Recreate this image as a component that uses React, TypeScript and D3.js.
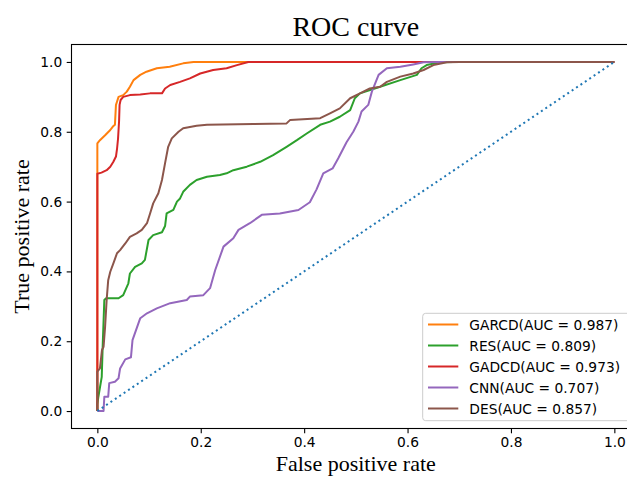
import React, { useEffect, useRef } from 'react';
import * as d3 from 'd3';

const garcd = [
  [0, 0], [0, 0.73], [0, 0.767], [0.005, 0.776], [0.015, 0.79], [0.025, 0.805], [0.03, 0.815],
  [0.034, 0.82], [0.036, 0.877], [0.038, 0.886], [0.041, 0.9], [0.05, 0.905], [0.057, 0.915],
  [0.063, 0.929], [0.07, 0.948], [0.083, 0.963], [0.095, 0.972], [0.115, 0.982], [0.14, 0.986],
  [0.166, 0.996], [0.186, 1], [1, 1],
];
const res = [
  [0, 0], [0, 0.02], [0.002, 0.041], [0.0085, 0.098], [0.0105, 0.194], [0.0135, 0.318],
  [0.017, 0.323], [0.041, 0.323], [0.05, 0.332], [0.06, 0.366], [0.063, 0.394], [0.073, 0.413],
  [0.086, 0.423], [0.092, 0.433], [0.099, 0.49], [0.108, 0.504], [0.125, 0.512], [0.131, 0.53],
  [0.134, 0.566], [0.147, 0.576], [0.154, 0.6], [0.16, 0.609], [0.166, 0.628], [0.179, 0.648],
  [0.192, 0.662], [0.212, 0.671], [0.237, 0.676], [0.25, 0.681], [0.263, 0.69], [0.289, 0.7],
  [0.315, 0.714], [0.34, 0.733], [0.366, 0.757], [0.386, 0.776], [0.405, 0.795], [0.431, 0.82],
  [0.45, 0.829], [0.469, 0.843], [0.489, 0.862], [0.498, 0.896], [0.508, 0.91], [0.547, 0.929],
  [0.586, 0.948], [0.618, 0.963], [0.627, 0.982], [0.637, 0.991], [0.663, 0.999], [0.689, 1], [1, 1],
];
const gadcd = [
  [0, 0], [0, 0.68], [0.008, 0.683], [0.018, 0.69], [0.025, 0.7], [0.031, 0.714], [0.036, 0.729],
  [0.038, 0.75], [0.04, 0.78], [0.042, 0.83], [0.043, 0.877], [0.045, 0.891], [0.05, 0.9],
  [0.063, 0.905], [0.083, 0.907], [0.102, 0.91], [0.125, 0.91], [0.131, 0.924], [0.141, 0.934],
  [0.16, 0.943], [0.179, 0.953], [0.199, 0.967], [0.224, 0.977], [0.25, 0.982], [0.27, 0.991],
  [0.292, 1], [1, 1],
];
const cnn = [
  [0, 0], [0.012, 0], [0.0135, 0.041], [0.021, 0.041], [0.023, 0.08], [0.034, 0.084], [0.041, 0.094],
  [0.044, 0.122], [0.054, 0.148], [0.065, 0.154], [0.068, 0.203], [0.083, 0.266], [0.096, 0.28],
  [0.115, 0.294], [0.141, 0.309], [0.173, 0.318], [0.179, 0.328], [0.205, 0.332], [0.218, 0.352],
  [0.228, 0.404], [0.244, 0.471], [0.263, 0.495], [0.273, 0.519], [0.295, 0.538], [0.318, 0.562],
  [0.353, 0.566], [0.389, 0.576], [0.411, 0.598], [0.424, 0.635], [0.437, 0.681], [0.455, 0.695],
  [0.466, 0.724], [0.482, 0.77], [0.495, 0.8], [0.505, 0.829], [0.511, 0.858], [0.524, 0.877],
  [0.531, 0.915], [0.544, 0.963], [0.56, 0.982], [0.586, 0.986], [0.611, 0.993], [0.631, 0.999],
  [0.663, 1], [1, 1],
];
const des = [
  [0, 0], [0, 0.113], [0.005, 0.122], [0.009, 0.175], [0.012, 0.184], [0.015, 0.242], [0.018, 0.318],
  [0.021, 0.375], [0.025, 0.399], [0.031, 0.423], [0.038, 0.452], [0.044, 0.461], [0.054, 0.48],
  [0.063, 0.499], [0.076, 0.509], [0.086, 0.519], [0.096, 0.538], [0.102, 0.566], [0.108, 0.595],
  [0.118, 0.624], [0.125, 0.662], [0.131, 0.71], [0.137, 0.757], [0.144, 0.781], [0.157, 0.8],
  [0.166, 0.81], [0.192, 0.817], [0.212, 0.82], [0.302, 0.822], [0.366, 0.824], [0.373, 0.834],
  [0.431, 0.839], [0.45, 0.853], [0.469, 0.867], [0.489, 0.896], [0.508, 0.91], [0.527, 0.924],
  [0.547, 0.929], [0.56, 0.943], [0.586, 0.958], [0.611, 0.967], [0.631, 0.977], [0.65, 0.991],
  [0.676, 0.999], [0.701, 1], [1, 1],
];
const chance = [[0, 0], [1, 1]];

const seriesNames = ['GARCD(AUC = 0.987)', 'RES(AUC = 0.809)', 'GADCD(AUC = 0.973)', 'CNN(AUC = 0.707)', 'DES(AUC = 0.857)'];
const seriesData = [garcd, res, gadcd, cnn, des];
const seriesColors = ['#ff7f0e', '#2ca02c', '#d62728', '#9467bd', '#8c564b'];
const ticks = [0, 0.2, 0.4, 0.6, 0.8, 1.0];

function App() {
  const ref = useRef(null);

  useEffect(() => {
    const svg = d3.select(ref.current);
    svg.selectAll('*').remove();

    // axes box: matplotlib default 5% margins, right side runs off the picture
    const x = d3.scaleLinear().domain([-0.05, 1.05]).range([71.5, 640.2]);
    const y = d3.scaleLinear().domain([-0.05, 1.05]).range([428.5, 44.5]);

    svg.append('rect').attr('width', 627).attr('height', 477).attr('fill', 'white');

    const line = d3.line().x((d) => x(d[0])).y((d) => y(d[1]));

    const plot = svg.append('g');
    seriesData.forEach((data, i) => {
      plot.append('path')
        .attr('d', line(data))
        .attr('fill', 'none')
        .attr('stroke', seriesColors[i])
        .attr('stroke-width', 2)
        .attr('stroke-linejoin', 'round');
    });
    plot.append('path')
      .attr('d', line(chance))
      .attr('fill', 'none')
      .attr('stroke', '#1f77b4')
      .attr('stroke-width', 2)
      .attr('stroke-dasharray', '2,3.3');

    // frame
    svg.append('rect')
      .attr('x', x(-0.05)).attr('y', y(1.05))
      .attr('width', x(1.05) - x(-0.05)).attr('height', y(-0.05) - y(1.05))
      .attr('fill', 'none').attr('stroke', 'black').attr('stroke-width', 1.1);

    const xAxis = svg.append('g')
      .attr('transform', `translate(0,${y(-0.05)})`)
      .call(d3.axisBottom(x).tickValues(ticks).tickFormat(d3.format('.1f')).tickSize(4.8).tickPadding(4));
    const yAxis = svg.append('g')
      .attr('transform', `translate(${x(-0.05)},0)`)
      .call(d3.axisLeft(y).tickValues(ticks).tickFormat(d3.format('.1f')).tickSize(4.8).tickPadding(4.5));
    [xAxis, yAxis].forEach((g) => {
      g.select('.domain').remove();
      g.selectAll('line').attr('stroke', 'black').attr('stroke-width', 1.1);
      g.selectAll('text')
        .attr('font-family', 'DejaVu Sans')
        .attr('font-size', 13.8)
        .attr('fill', 'black');
    });

    svg.append('text')
      .attr('x', 355.8).attr('y', 36)
      .attr('text-anchor', 'middle')
      .attr('font-family', 'Liberation Serif')
      .attr('font-size', 28)
      .text('ROC curve');
    svg.append('text')
      .attr('x', 355.8).attr('y', 471)
      .attr('text-anchor', 'middle')
      .attr('font-family', 'Liberation Serif')
      .attr('font-size', 22)
      .text('False positive rate');
    svg.append('text')
      .attr('transform', `translate(29,${(y(-0.05) + y(1.05)) / 2}) rotate(-90)`)
      .attr('text-anchor', 'middle')
      .attr('font-family', 'Liberation Serif')
      .attr('font-size', 22)
      .text('True positive rate');

    // legend, lower right
    const legend = svg.append('g');
    legend.append('rect')
      .attr('x', 422.7).attr('y', 313.3)
      .attr('width', 210).attr('height', 107.4)
      .attr('rx', 3)
      .attr('fill', 'white').attr('fill-opacity', 0.8)
      .attr('stroke', '#cccccc').attr('stroke-width', 1);
    seriesNames.forEach((name, i) => {
      const cy = 324.5 + i * 21;
      legend.append('line')
        .attr('x1', 428).attr('x2', 458.3)
        .attr('y1', cy).attr('y2', cy)
        .attr('stroke', seriesColors[i]).attr('stroke-width', 2);
      legend.append('text')
        .attr('x', 469.3).attr('y', cy + 5)
        .attr('font-family', 'DejaVu Sans')
        .attr('font-size', 13.8)
        .text(name);
    });
  }, []);

  return (
    <svg ref={ref} width={627} height={477} style={{ position: 'absolute', left: 0, top: 0 }} />
  );
}

export default App;
